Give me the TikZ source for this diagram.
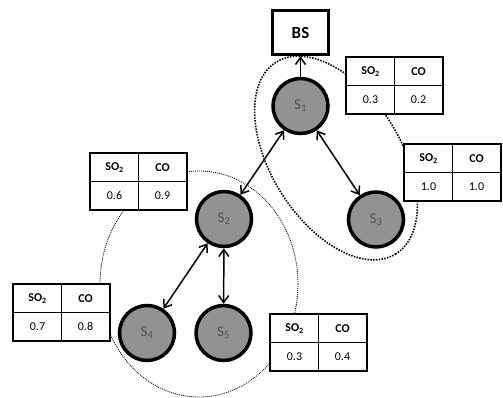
\documentclass[tikz,border=0pt]{standalone}
\usepackage{fontspec}
\setmainfont{Carlito}
\usetikzlibrary{arrows.meta,positioning}
\definecolor{nodefill}{HTML}{929292}
\definecolor{nodetext}{HTML}{505050}
\tikzset{
  sensor/.style={circle, draw=black, line width=3.5pt, fill=nodefill, minimum size=55pt, inner sep=0pt,
    text=nodetext, font=\fontsize{15}{15}\selectfont},
  basestation/.style={draw=black, line width=3.5pt, fill=white, minimum width=56pt, minimum height=44pt,
    inner sep=0pt, font=\fontsize{17}{17}\selectfont\bfseries},
  cell/.style={draw=black, line width=1pt, fill=white, minimum width=48pt, minimum height=28pt,
    inner sep=0pt, anchor=north west, font=\fontsize{12}{12}\selectfont},
  hcell/.style={cell, font=\fontsize{12}{12}\selectfont\bfseries},
  tableframe/.style={draw=black, line width=1.6pt},
  link/.style={line width=1.5pt, {Straight Barb[length=7pt,width=10pt]}-{Straight Barb[length=7pt,width=10pt]}},
  uplink/.style={line width=1.5pt, -{Straight Barb[length=7pt,width=10pt]}},
  clusterA/.style={draw=black, line width=1.6pt, dash pattern=on 1.5pt off 1.3pt},
  clusterB/.style={draw=black, line width=0.8pt, dash pattern=on 1pt off 1pt},
}
\newcommand{\gastable}[5]{%
  \node[hcell] (#1a) at (#2,#3) {SO\textsubscript{2}};
  \node[hcell] (#1b) at (#2+48,#3) {CO};
  \node[cell] (#1c) at (#2,#3+28) {#4};
  \node[cell] (#1d) at (#2+48,#3+28) {#5};
  \draw[tableframe] (#1a.north west) rectangle (#1d.south east);
}
\begin{document}
\begin{tikzpicture}[x=1pt,y=-1pt]
\useasboundingbox (0,0) rectangle (503,398);
% clusters
\draw[clusterA, rotate around={-58:(336,158)}] (336,158) ellipse [x radius=113, y radius=65];
\draw[clusterB] (199,284) ellipse [x radius=99, y radius=113];
% nodes
\node[basestation] (bs) at (300.5,32.5) {BS};
\node[sensor] (s1) at (300.5,106) {S\textsubscript{1}};
\node[sensor] (s2) at (224,219) {S\textsubscript{2}};
\node[sensor] (s3) at (376,219.5) {S\textsubscript{3}};
\node[sensor] (s4) at (147,333) {S\textsubscript{4}};
\node[sensor] (s5) at (223.5,333) {S\textsubscript{5}};
% links
\draw[uplink] (s1) -- (bs);
\draw[link] (s1) -- (s2);
\draw[link] (s1) -- (s3);
\draw[link] (s2) -- (s4);
\draw[link] (s2) -- (s5);
% tables
\gastable{ta}{346}{57}{0.3}{0.2}
\gastable{tb}{404}{144}{1.0}{1.0}
\gastable{tc}{90}{153}{0.6}{0.9}
\gastable{td}{13}{284}{0.7}{0.8}
\gastable{te}{270}{314}{0.3}{0.4}
\end{tikzpicture}
\end{document}
